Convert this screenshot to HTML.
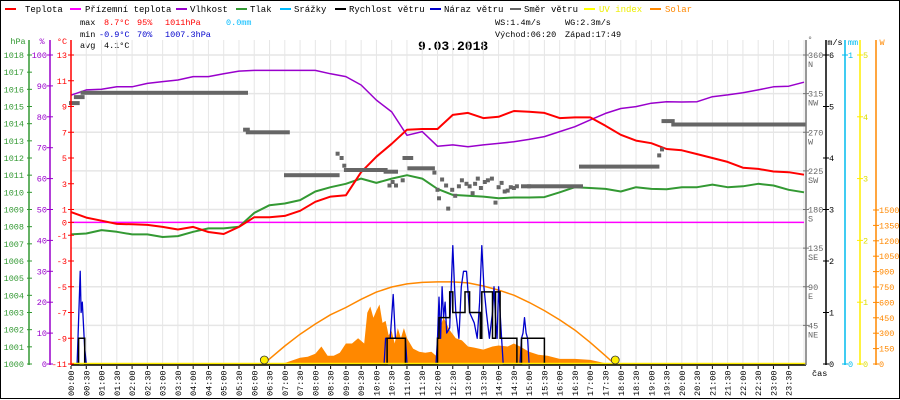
<!DOCTYPE html>
<html><head><meta charset="utf-8">
<style>
html,body{margin:0;padding:0;background:#fff;}
svg{display:block;font-family:"Liberation Mono",monospace;}
</style></head>
<body>
<svg id="c" width="900" height="400" viewBox="0 0 900 400" xmlns="http://www.w3.org/2000/svg">
<rect x="0.5" y="0.5" width="899" height="398" fill="#fff" stroke="#000" stroke-width="1"/>
<g font-size="9">
 <g><rect x="5" y="8" width="11" height="2" fill="#f00"/><text x="25" y="12">Teplota</text></g>
 <g><rect x="70" y="8" width="11" height="2" fill="#f0f"/><text x="85" y="12">Přízemní teplota</text></g>
 <g><rect x="176" y="8" width="11" height="2" fill="#90c"/><text x="190" y="12">Vlhkost</text></g>
 <g><rect x="236" y="8" width="11" height="2" fill="#393"/><text x="250" y="12">Tlak</text></g>
 <g><rect x="280" y="8" width="11" height="2" fill="#0bf"/><text x="294" y="12">Srážky</text></g>
 <g><rect x="335" y="8" width="11" height="2" fill="#000"/><text x="349" y="12">Rychlost větru</text></g>
 <g><rect x="430" y="8" width="11" height="2" fill="#00c"/><text x="444" y="12">Náraz větru</text></g>
 <g><rect x="510" y="8" width="11" height="2" fill="#666"/><text x="524" y="12">Směr větru</text></g>
 <g><rect x="584" y="8" width="11" height="2" fill="#ff0"/><text x="599" y="12" fill="#ee0">UV index</text></g>
 <g><rect x="650" y="8" width="11" height="2" fill="#f80"/><text x="665" y="12" fill="#f80">Solar</text></g>
</g>
<g font-size="8.5">
 <text x="80" y="25">max</text><text x="104" y="25" fill="#f00">8.7°C</text><text x="137" y="25" fill="#f00">95%</text><text x="165" y="25" fill="#f00">1011hPa</text><text x="226" y="25" fill="#0bf">0.0mm</text>
 <text x="80" y="37">min</text><text x="99" y="37" fill="#00c">-0.9°C</text><text x="137" y="37" fill="#00c">70%</text><text x="165" y="37" fill="#00c">1007.3hPa</text>
 <text x="80" y="48">avg</text><text x="104" y="48">4.1°C</text>
 <text x="495" y="25">WS:1.4m/s</text><text x="565" y="25">WG:2.3m/s</text>
 <text x="495" y="37">Východ:06:20</text><text x="565" y="37">Západ:17:49</text>
</g>
<text x="418" y="50" font-size="13" font-weight="bold">9.03.2018</text>
<g id="grid"></g>
<g id="plot"></g>
<g id="axes"></g>
</svg>
<script>
// ---- data ----
const timeSteps = [0,0.5,1,1.5,2,2.5,3,3.5,4,4.5,5,5.5,6,6.5,7,7.5,8,8.5,9,9.5,10,10.5,11,11.5,12,12.5,13,13.5,14,14.5,15,15.5,16,16.5,17,17.5,18,18.5,19,19.5,20,20.5,21,21.5,22,22.5,23,23.5,24];
const tempValues = [0.8,0.37,0.13,-0.12,-0.15,-0.2,-0.35,-0.55,-0.35,-0.75,-0.9,-0.35,0.4,0.4,0.5,0.9,1.6,2.0,2.1,3.9,5.1,6.1,7.2,7.25,7.25,8.35,8.5,8.1,8.2,8.65,8.6,8.5,8.1,8.15,8.15,7.5,6.8,6.35,6.15,5.7,5.6,5.3,5.0,4.7,4.25,4.15,3.95,3.9,3.7];
const dewTempValues = [0,0,0,0,0,0,0,0,0,0,0,0,0,0,0,0,0,0,0,0,0,0,0,0,0,0,0,0,0,0,0,0,0,0,0,0,0,0,0,0,0,0,0,0,0,0,0,0,0];
const humValues = [87,88.7,88.9,89.7,89.7,90.8,91.4,91.9,93,93,93.9,94.8,95,95,95,95,95,93.9,93,90.3,85.4,81.6,74,75.2,70.5,70.9,70.3,70.9,71.4,71.9,72.7,73.6,75.2,76.8,79,81.1,82.7,83.3,84.4,84.9,84.8,84.9,86.5,87.1,87.8,88.7,89.7,89.9,91.2];
const pressValues = [1007.55,1007.6,1007.8,1007.7,1007.55,1007.55,1007.4,1007.45,1007.7,1007.9,1007.9,1008.0,1008.8,1009.25,1009.35,1009.55,1010.05,1010.3,1010.5,1010.8,1010.55,1010.8,1011.0,1010.8,1010.2,1009.85,1009.8,1009.75,1009.65,1009.7,1009.7,1009.72,1010.0,1010.3,1010.25,1010.2,1010.05,1010.3,1010.2,1010.18,1010.3,1010.3,1010.45,1010.3,1010.35,1010.5,1010.4,1010.15,1010.0];
const windT = [0,0.2,0.25,0.4,0.45,10.3,10.35,10.9,10.95,11.97,12.0,12.05,12.35,12.4,12.5,12.8,12.9,13.05,13.35,13.4,13.45,13.7,13.8,13.9,14.05,14.55,14.6,14.7,14.75,15.45,15.5,24];
const windV = [0,0,0.5,0.5,0,0,0.5,0.5,0,0,0.5,0.9,0.9,1.4,1.0,1.0,1.4,1.0,1.0,0.5,1.4,1.4,0.5,1.4,0.5,0.5,0,0,0.5,0.5,0,0];
const gustT = [0,0.2,0.27,0.3,0.33,0.37,0.45,0.5,10.25,10.3,10.45,10.55,10.62,10.7,10.95,11.0,11.95,12.0,12.05,12.1,12.15,12.2,12.25,12.3,12.4,12.5,12.55,12.6,12.7,12.78,12.85,12.95,13.05,13.2,13.3,13.38,13.45,13.52,13.6,13.7,13.8,13.85,13.9,13.95,14.0,14.05,14.1,14.15,14.7,14.75,14.8,14.85,14.9,14.95,15.0,24];
const gustV = [0,0,1.2,1.8,1.0,1.2,0.3,0,0,0.5,0.5,1.35,0.5,0.5,0.5,0,0,0.5,1.3,0.5,1.5,0.9,1.2,0.6,0.7,2.3,1.6,1.0,0.5,1.5,1.8,1.8,1.0,0.8,0.5,1.2,2.3,1.5,1.0,0.5,1.0,1.5,0.9,0.5,1.5,1.0,0.5,0,0,0.5,0.6,0.9,0.6,0.5,0,0];
const solarTheoT = [6.3,6.5,7,7.5,8,8.5,9,9.5,10,10.5,11,11.5,12,12.5,13,13.5,14,14.5,15,15.5,16,16.5,17,17.5,17.8];
const solarTheoV = [0,50,175,290,390,480,550,630,700,750,780,795,800,800,790,760,720,670,600,520,430,330,210,80,0];
const solarT = [6.3,6.5,7,7.5,7.75,8,8.2,8.4,8.6,8.8,9,9.2,9.4,9.6,9.7,9.8,9.9,10,10.1,10.2,10.3,10.4,10.5,10.6,10.7,10.8,10.9,11,11.2,11.4,11.6,11.8,11.95,12,12.2,12.4,12.6,12.8,13,13.2,13.5,13.8,14,14.3,14.5,14.7,15,15.3,15.6,16,16.5,17,17.3,17.6];
const solarV = [0,5,10,60,70,100,170,80,80,110,200,200,250,200,500,560,450,520,580,400,420,280,320,200,350,250,350,250,150,120,110,120,80,300,450,330,250,230,170,160,140,170,180,170,200,170,120,90,80,50,50,40,20,0];
const dirStart = [0,0.16,0.38,5.7,5.79,7.04,8.73,8.86,8.95,9.0,10.3,10.43,10.53,10.64,10.86,10.92,11.08,11.9,12.0,12.05,12.15,12.28,12.35,12.48,12.58,12.7,12.8,12.95,13.05,13.15,13.23,13.32,13.42,13.55,13.65,13.78,13.9,14.0,14.1,14.2,14.3,14.4,14.5,14.6,14.8,15.0,16.7,19.26,19.35,19.4,19.72];
const dirEnd   = [0.22,0.38,5.73,5.79,7.1,8.73,8.73,8.86,8.95,10.3,10.64,10.43,10.53,10.64,10.86,11.14,11.85,11.9,12.0,12.05,12.15,12.28,12.35,12.48,12.58,12.7,12.8,12.95,13.05,13.15,13.23,13.32,13.42,13.55,13.65,13.78,13.9,14.0,14.1,14.2,14.3,14.4,14.5,14.6,15.0,16.7,19.2,19.26,19.35,19.7,24];
const dirDeg   = [304,311,316,273,270,220,245,240,231,226,224,208,212,208,214,240,228,223,203,193,215,208,181,203,196,207,214,210,207,199,210,216,205,212,214,216,188,206,211,201,202,206,205,207,207,207,230,243,250,283,279];
const tempTicks = [13,11,9,7,5,3,1,0,-1,-3,-5,-7,-9,-11];
const humTicks = [100,90,80,70,60,50,40,30,20,10,0];
const pressTicks = [1018,1017,1016,1015,1014,1013,1012,1011,1010,1009,1008,1007,1006,1005,1004,1003,1002,1001,1000];
const dirTicks = [360,315,270,225,180,135,90,45];
const dirNames = ["N","NW","W","SW","S","SE","E","NE"];
const windTicks = [6,5,4,3,2,1,0];
const rainTicks = [1,0];
const uvTicks = [5,4,3,2,1,0];
const solarTicks = [1500,1350,1200,1050,900,750,600,450,300,150,0];

// ---- scales ----
const X0=71, X1=804, YT=55, YB=364;
const xs = t => X0 + t*(X1-X0)/24;
const yTemp = v => YT + (13-v)*(YB-YT)/24;
const yHum = v => YB - v*(YB-YT)/100;
const yPress = v => YB - (v-1000)*(YB-YT)/18;
const yWind = v => YB - v*(YB-YT)/6;
const yRain = v => YB - v*(YB-YT);
const yUV = v => YB - v*(YB-YT)/5;
const ySolar = v => YB - v*154/1500;
const yDir = v => YB - v*(YB-YT)/360;

const NS="http://www.w3.org/2000/svg";
function mk(tag, attrs, parent){const e=document.createElementNS(NS,tag);for(const k in attrs)e.setAttribute(k,attrs[k]);parent.appendChild(e);return e;}
const grid=document.getElementById('grid'), plot=document.getElementById('plot'), axes=document.getElementById('axes');

for(let i=1;i<=48;i++){const x=xs(i*0.5);const l=mk('line',{x1:x,y1:40,x2:x,y2:YB,stroke:'#e6e6e6','stroke-width':1},grid);

}
dirTicks.forEach(d=>{const y=yDir(d);const l=mk('line',{x1:X0,y1:y,x2:806,y2:y,stroke:'#e6e6e6','stroke-width':1.5},grid);

});

function poly(xsArr, ysArr, fx, fy, color, w, name){
  const pts = xsArr.map((t,i)=>fx(t).toFixed(1)+','+fy(ysArr[i]).toFixed(1)).join(' ');
  const p=mk('polyline',{points:pts,fill:'none',stroke:color,'stroke-width':w,'stroke-linejoin':'round'},plot);
  
  
  return p;
}
function stepPts(ts, vs, fy){let s=[];for(let i=0;i<ts.length;i++){if(i>0)s.push(xs(ts[i]).toFixed(1)+','+fy(vs[i-1]).toFixed(1));s.push(xs(ts[i]).toFixed(1)+','+fy(vs[i]).toFixed(1));}return s.join(' ');}

{const pts=[xs(solarT[0])+','+YB].concat(solarT.map((t,i)=>xs(t).toFixed(1)+','+ySolar(solarV[i]).toFixed(1))).concat([xs(solarT[solarT.length-1])+','+YB]).join(' ');
const a=mk('polygon',{points:pts,fill:'#ff8800',stroke:'none'},plot);

}
poly(solarTheoT,solarTheoV,xs,ySolar,'#ff8800',1.5,'solar-theoretical-line');
poly(timeSteps,dewTempValues,xs,yTemp,'#ff00ff',1.5,'dew-temperature-line');
poly(timeSteps,pressValues,xs,yPress,'#339933',2,'pressure-line');
poly(timeSteps,humValues,xs,yHum,'#9900cc',1.5,'humidity-line');
poly(timeSteps,tempValues,xs,yTemp,'#ff0000',2,'temperature-line');
dirDeg.forEach((d,i)=>{const x1=xs(dirStart[i])-2, x2=xs(dirEnd[i])+2;const r=mk('rect',{x:x1.toFixed(1),y:(yDir(d)-2).toFixed(1),width:(x2-x1).toFixed(1),height:4,fill:'#666'},plot);

});
poly(gustT,gustV,xs,yWind,'#0000cc',1.3,'wind-gust-line');
{const w=mk('polyline',{points:stepPts(windT,windV,yWind),fill:'none',stroke:'#000','stroke-width':1.5},plot);

}
{const b=mk('line',{x1:X0,y1:365,x2:806,y2:365,stroke:'#000','stroke-width':1.5},axes);


const u=mk('line',{x1:X0,y1:363.5,x2:806,y2:363.5,stroke:'#ffee00','stroke-width':1.5},axes);

}
[[6.33,'sunrise-marker'],[17.82,'sunset-marker']].forEach(([t,n])=>{const c=mk('circle',{cx:xs(t),cy:360,r:4,fill:'#ffee00',stroke:'#333','stroke-width':0.8},axes);

});
for(let i=0;i<48;i++){const t=i*0.5,x=xs(t);
 mk('line',{x1:x,y1:366,x2:x,y2:369,stroke:'#000','stroke-width':1},axes);
 const h=Math.floor(t),m=(i%2)?'30':'00';
 const tx=mk('text',{x:0,y:0,'font-size':8.5,transform:`translate(${(x+3).toFixed(1)},396) rotate(-90)`},axes);
 tx.textContent=(h<10?'0':'')+h+':'+m;
 
 }
{const t=mk('text',{x:812,y:376,'font-size':8.5},axes);t.textContent='čas';

}

function vAxis(x,color,top,name){const l=mk('line',{x1:x,y1:top,x2:x,y2:YB+1,stroke:color,'stroke-width':1.5},axes);

}
function label(x,y,txt,color,anchor,name){const t=mk('text',{x:x,y:y+3,'font-size':8.5,fill:color,'text-anchor':anchor},axes);t.textContent=txt;

}
vAxis(29,'#339933',40,'pressure-axis'); vAxis(50,'#9900cc',40,'humidity-axis'); vAxis(71,'#ff0000',40,'temperature-axis');
label(18,41,'hPa','#339933','middle','pressure-axis-title');
label(42,41,'%','#9900cc','middle','humidity-axis-title');
label(62,41,'°C','#ff0000','middle','temperature-axis-title');
pressTicks.forEach(v=>{const y=yPress(v);mk('line',{x1:27,y1:y,x2:32,y2:y,stroke:'#339933'},axes);label(24,y,String(v),'#339933','end','pressure-tick-label');});
humTicks.forEach(v=>{const y=yHum(v);mk('line',{x1:47,y1:y,x2:53,y2:y,stroke:'#9900cc'},axes);label(47,y,String(v),'#9900cc','end','humidity-tick-label');});
tempTicks.forEach(v=>{const y=yTemp(v);mk('line',{x1:68,y1:y,x2:74,y2:y,stroke:'#ff0000'},axes);label(67,y,String(v),'#ff0000','end','temperature-tick-label');});
vAxis(806,'#777',40,'wind-direction-axis'); vAxis(826,'#000',40,'wind-speed-axis'); vAxis(845,'#00bbee',40,'rain-axis'); vAxis(860,'#ffee00',40,'uv-axis'); vAxis(876,'#ff8800',40,'solar-axis');
label(810,39,'°','#666','middle','wind-direction-axis-title');
label(835,42,'m/s','#000','middle','wind-speed-axis-title');
label(853,42,'mm','#00bbee','middle','rain-axis-title');
label(882,42,'W','#ff8800','middle','solar-axis-title');
dirTicks.forEach((d,i)=>{const y=yDir(d);mk('line',{x1:803,y1:y,x2:809,y2:y,stroke:'#777'},axes);label(808,y,String(d),'#666','start','wind-direction-tick-label');label(808,y+9,dirNames[i],'#666','start','wind-direction-name');});
windTicks.forEach(v=>{const y=yWind(v);mk('line',{x1:823,y1:y,x2:829,y2:y,stroke:'#000'},axes);label(829,y,String(v),'#000','start','wind-speed-tick-label');});
rainTicks.forEach(v=>{const y=yRain(v);mk('line',{x1:842,y1:y,x2:848,y2:y,stroke:'#00bbee'},axes);label(848,y,String(v),'#00bbee','start','rain-tick-label');});
uvTicks.forEach(v=>{const y=yUV(v);mk('line',{x1:857,y1:y,x2:863,y2:y,stroke:'#ffee00'},axes);label(863,y,String(v),'#dddd00','start','uv-tick-label');});
solarTicks.forEach(v=>{const y=ySolar(v);mk('line',{x1:873,y1:y,x2:879,y2:y,stroke:'#ff8800'},axes);label(879,y,String(v),'#ff8800','start','solar-tick-label');});
</script>
</body></html>
